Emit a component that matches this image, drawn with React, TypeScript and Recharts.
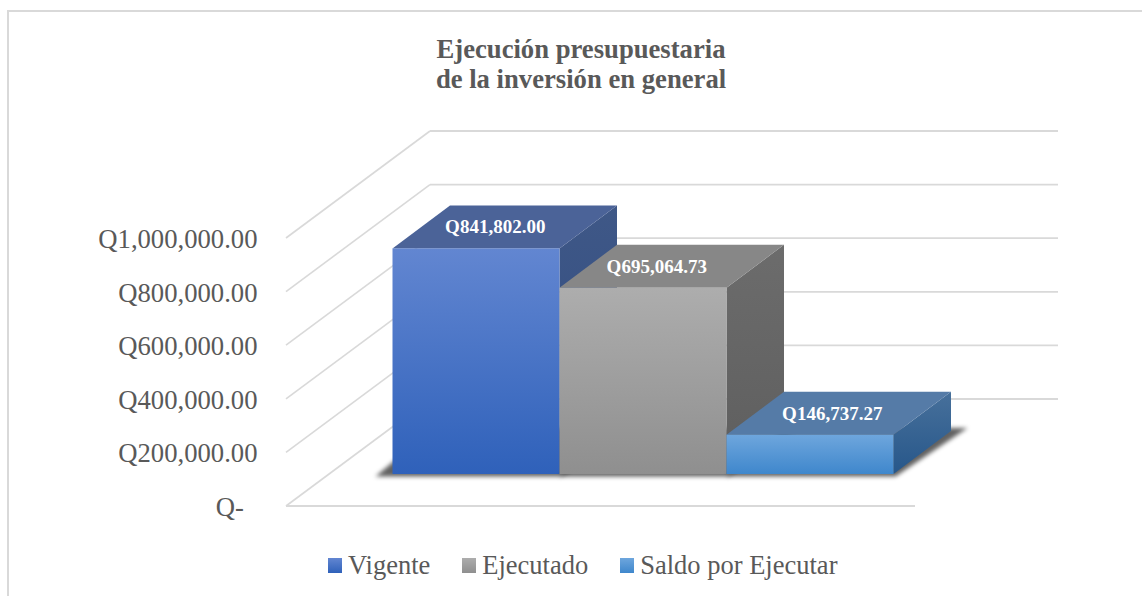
import { BarChart, Bar, XAxis, YAxis, CartesianGrid, Legend } from 'recharts';

const categories = ['Inversión'];
const seriesNames = ['Vigente', 'Ejecutado', 'Saldo por Ejecutar'];
const seriesValues = [841802.0, 695064.73, 146737.27];
const yTicks = [0, 200000, 400000, 600000, 800000, 1000000];
const titleLines = ['Ejecución presupuestaria', 'de la inversión en general'];

const chartData = categories.map((category) => {
  const row: Record<string, string | number> = { category };
  seriesNames.forEach((name, i) => {
    row[name] = seriesValues[i];
  });
  return row;
});

const FONT = '"Liberation Serif", serif';
const TEXT = '#595959';
const GRID = '#d9d9d9';

// the walls sit behind the front plane by this much
const WALL_DX = 144;
const WALL_DY = 107;
// bars stand part of the way into the floor
const BAR_DX = 43;
const BAR_DY = 32;
const DEPTH_DX = 57.5;
const DEPTH_DY = 43;

const faces = [
  { id: 'vigente', from: '#6286d1', to: '#2f61ba', top: '#4b6398', sideFrom: '#3f5887', sideTo: '#2f4a80', labelDx: -9.5 },
  { id: 'ejecutado', from: '#adadad', to: '#8f8f8f', top: '#878787', sideFrom: '#6c6c6c', sideTo: '#5e5e5e', labelDx: -15 },
  { id: 'saldo', from: '#6ea6dd', to: '#3f87cc', top: '#557ba7', sideFrom: '#47709b', sideTo: '#27578a', labelDx: -6.5 },
];

const money = (v: number) =>
  'Q' + v.toLocaleString('en-US', { minimumFractionDigits: 2, maximumFractionDigits: 2 });

const pts = (list: number[][]) => list.map((p) => p.join(',')).join(' ');

function gridLine(props: any) {
  const { x1, x2, y1, key } = props;
  const backY = y1 - WALL_DY;
  return (
    <g key={key}>
      <line x1={x1} y1={y1} x2={x1 + WALL_DX} y2={backY} stroke={GRID} strokeWidth={1.6} />
      <line x1={x1 + WALL_DX} y1={backY} x2={x2 + WALL_DX - 1} y2={backY} stroke={GRID} strokeWidth={1.8} />
      {y1 > 500 && <line x1={x1} y1={y1} x2={x2} y2={y1} stroke={GRID} strokeWidth={1.8} />}
    </g>
  );
}

function YTick({ x, y, payload }: any) {
  return (
    <text
      x={payload.value === 0 ? x - 12 : x + 1.5}
      y={y + 10}
      textAnchor="end"
      fontFamily={FONT}
      fontSize={26.67}
      fill={TEXT}
    >
      {payload.value === 0 ? 'Q-' : money(payload.value)}
    </text>
  );
}

const barShape = (i: number) => (props: any) => {
  const { x, y, width, height } = props;
  const face = faces[i];
  const left = x + BAR_DX;
  const right = left + width;
  const top = y - BAR_DY;
  const bottom = top + height;
  const shadowLeft = i === 0 ? left - 17 : left;
  return (
    <g>
      <polygon
        points={pts([
          [shadowLeft, bottom + 2.5],
          [right + 2, bottom + 2.5],
          [right + 74, bottom - 46],
          [shadowLeft + 58, bottom - 46],
        ])}
        fill="#000"
        fillOpacity={0.62}
        filter="url(#floorShadow)"
      />
      <polygon
        points={pts([
          [right, top],
          [right + DEPTH_DX, top - DEPTH_DY],
          [right + DEPTH_DX, bottom - DEPTH_DY],
          [right, bottom],
        ])}
        fill={`url(#side-${face.id})`}
      />
      <polygon
        points={pts([
          [left, top],
          [right, top],
          [right + DEPTH_DX, top - DEPTH_DY],
          [left + DEPTH_DX, top - DEPTH_DY],
        ])}
        fill={face.top}
      />
      <rect x={left} y={top} width={width} height={height} fill={`url(#front-${face.id})`} />
      <text
        x={left + (width + DEPTH_DX) / 2 + face.labelDx}
        y={top - DEPTH_DY / 2 + 6.5}
        textAnchor="middle"
        fontFamily={FONT}
        fontWeight="bold"
        fontSize={19}
        fill="#fff"
      >
        {money(seriesValues[i])}
      </text>
    </g>
  );
};

function LegendRow({ payload }: any) {
  return (
    <div style={{ display: 'flex', justifyContent: 'flex-start', alignItems: 'center', height: 30, fontFamily: FONT, fontSize: 26.5, color: TEXT, whiteSpace: 'nowrap' }}>
      {(payload || []).map((entry: any) => (
        <span key={entry.value} style={{ display: 'inline-flex', alignItems: 'center', marginRight: 32 }}>
          <svg width={14} height={15} style={{ marginRight: 6 }}>
            <rect width={14} height={15} fill={entry.color} />
          </svg>
          {entry.value}
        </span>
      ))}
    </div>
  );
}

export default function App() {
  return (
    <div style={{ position: 'absolute', left: 0, top: 0, width: 1142, height: 596, background: '#fff', overflow: 'hidden' }}>
      {/* frame runs off the picture on the right and bottom */}
      <div style={{ position: 'absolute', left: 7, top: 10, width: 1200, height: 700, borderLeft: `2px solid ${GRID}`, borderTop: `2px solid ${GRID}` }} />
      <div style={{ position: 'absolute', left: 0, top: 0 }}>
        <BarChart
          width={1142}
          height={596}
          data={chartData}
          margin={{ top: 238, right: 227, bottom: 60, left: 86 }}
          barGap={0}
          barCategoryGap={63.5}
        >
          <defs>
            {faces.map((f) => (
              <linearGradient key={f.id} id={`front-${f.id}`} x1="0" y1="0" x2="0" y2="1">
                <stop offset="0" stopColor={f.from} />
                <stop offset="1" stopColor={f.to} />
              </linearGradient>
            ))}
            {faces.map((f) => (
              <linearGradient key={f.id} id={`side-${f.id}`} x1="0" y1="0" x2="0" y2="1">
                <stop offset="0" stopColor={f.sideFrom} />
                <stop offset="1" stopColor={f.sideTo} />
              </linearGradient>
            ))}
            <filter id="floorShadow" x="-30%" y="-60%" width="160%" height="220%">
              <feGaussianBlur stdDeviation="2" />
            </filter>
          </defs>
          <text x={581} textAnchor="middle" fontFamily={FONT} fontWeight="bold" fontSize={26.67} fill={TEXT}>
            <tspan x={581} y={58}>{titleLines[0]}</tspan>
            <tspan x={581} y={88}>{titleLines[1]}</tspan>
          </text>
          <CartesianGrid vertical={false} horizontal={gridLine} />
          <XAxis dataKey="category" hide />
          <YAxis
            width={200}
            domain={[0, 1000000]}
            ticks={yTicks}
            axisLine={false}
            tickLine={false}
            tickSize={0}
            tickMargin={30}
            tick={YTick}
          />
          <Legend
            content={LegendRow}
            height={30}
            layout="horizontal"
            verticalAlign="bottom"
            itemSorter={null}
            wrapperStyle={{ position: 'absolute', left: 328, top: 550, bottom: 'auto', width: 700 }}
          />
          {seriesNames.map((name, i) => (
            <Bar
              key={name}
              dataKey={name}
              name={name}
              fill={`url(#front-${faces[i].id})`}
              isAnimationActive={false}
              shape={barShape(i)}
            />
          ))}
        </BarChart>
      </div>
    </div>
  );
}
